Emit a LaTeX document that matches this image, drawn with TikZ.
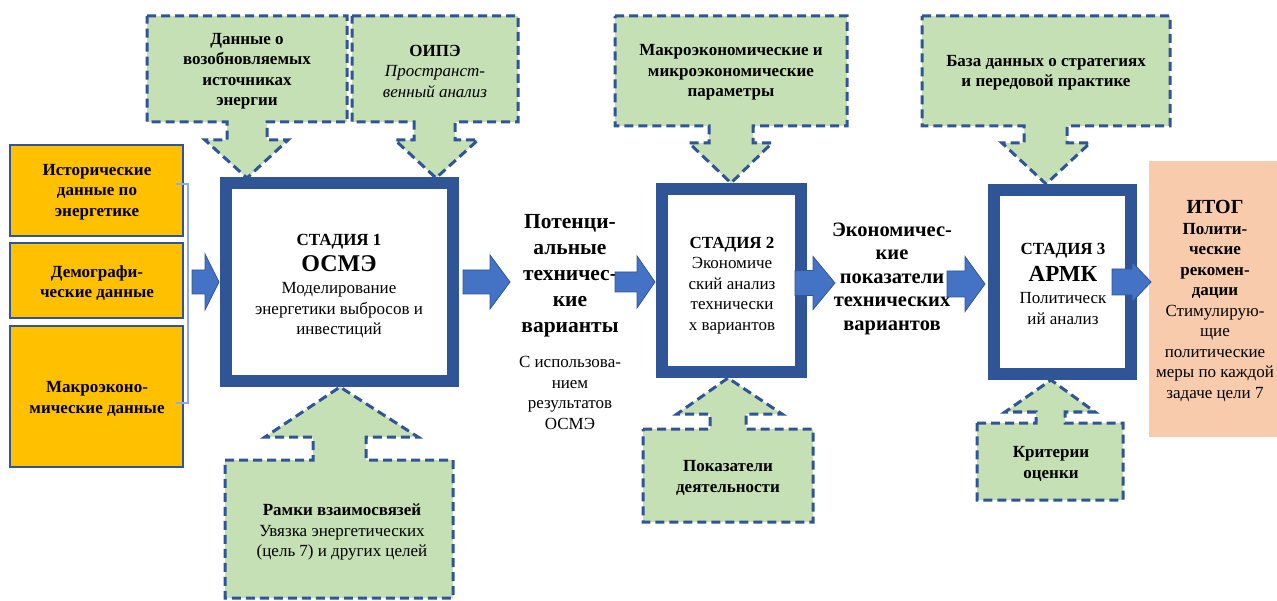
\documentclass[tikz,border=0pt]{standalone}
\usepackage{fontspec}
\setmainfont{Liberation Serif}
\definecolor{dblue}{HTML}{2F5597}
\definecolor{mblue}{HTML}{4472C4}
\definecolor{lgreen}{HTML}{C5E0B4}
\definecolor{orng}{HTML}{FFC000}
\definecolor{salmon}{HTML}{F8CBAD}
\definecolor{lblue}{HTML}{8FAADC}
\newcommand{\blockarr}[6]{\draw[barrow] (#1,#4-#5) -- (#2,#4-#5) -- (#2,#4-#6) -- (#3,#4) -- (#2,#4+#6) -- (#2,#4+#5) -- (#1,#4+#5) -- cycle;}
\begin{document}
\begin{tikzpicture}[x=1pt,y=-1pt,
 callout/.style={fill=lgreen, draw=dblue, line width=3pt, dash pattern=on 9pt off 5pt, line join=miter},
 stagebox/.style={draw=dblue, line width=12pt, fill=white},
 inbox/.style={fill=orng, draw=dblue, line width=2pt},
 barrow/.style={fill=mblue, draw=dblue, line width=0.8pt},
 txt/.style={align=center, inner sep=0pt, font=\fontsize{17}{20.5}\selectfont},
 txtb/.style={align=center, inner sep=0pt, font=\bfseries\fontsize{17}{20.5}\selectfont},
 bigtxt/.style={align=center, inner sep=0pt, font=\bfseries\fontsize{21.5}{26}\selectfont},
]
\useasboundingbox (0,0) rectangle (1277,601);

% ---- green callouts (down) ----
\draw[callout] (147,16) -- (347,16) -- (347,122) -- (267,122) -- (267,140) -- (288,140) -- (247,178) -- (205,140) -- (227,140) -- (227,122) -- (147,122) -- cycle;
\draw[callout] (352,16) -- (518,16) -- (518,122) -- (455,122) -- (455,140) -- (478,140) -- (436,178) -- (395,140) -- (414,140) -- (414,122) -- (352,122) -- cycle;
\draw[callout] (615,16) -- (847,16) -- (847,126) -- (753,126) -- (753,143) -- (772,143) -- (731,183) -- (689,143) -- (709,143) -- (709,126) -- (615,126) -- cycle;
\draw[callout] (922,16) -- (1170,16) -- (1170,126) -- (1067,126) -- (1067,143) -- (1090,143) -- (1046,184) -- (1002,143) -- (1024,143) -- (1024,126) -- (922,126) -- cycle;
% ---- green callouts (up) ----
\draw[callout] (225,460) -- (313,460) -- (313,437) -- (265,437) -- (340,387) -- (418,437) -- (366,437) -- (366,460) -- (453,460) -- (453,598) -- (225,598) -- cycle;
\draw[callout] (643,429) -- (710,429) -- (710,414) -- (677,414) -- (728,378) -- (782,414) -- (746,414) -- (746,429) -- (813,429) -- (813,522) -- (643,522) -- cycle;
\draw[callout] (977,423) -- (1036,423) -- (1036,412) -- (1005,412) -- (1051,380) -- (1095,412) -- (1065,412) -- (1065,423) -- (1123,423) -- (1123,500) -- (977,500) -- cycle;

% ---- stage boxes ----
\draw[stagebox] (226,183) rectangle (453,381);
\draw[stagebox] (662,189) rectangle (801,372);
\draw[stagebox] (994,190) rectangle (1131,374);

% ---- input boxes ----
\draw[inbox] (10,145) rectangle (183,236);
\draw[inbox] (10,243) rectangle (183,318);
\draw[inbox] (10,326) rectangle (183,467);
\draw[lblue, line width=1.2pt] (176,184) -- (188,184) -- (188,403) -- (176,403);

% ---- output box ----
\fill[salmon] (1149,161) rectangle (1277,437);

% ---- texts ----
\node[txtb] (g1) at (247,71) {Данные о\\возобновляемых\\источниках\\энергии};
\node[txt] (g2) at (435,71) {\textbf{ОИПЭ}\\\textit{Пространст-}\\\textit{венный анализ}};
\node[txtb] (g3) at (731,72.5) {Макроэкономические и\\микроэкономические\\параметры};
\node[txtb] (g4) at (1046,72.5) {База данных о стратегиях\\и передовой практике};
\node[txt] (b1) at (342,532) {\textbf{Рамки взаимосвязей}\\Увязка энергетических\\(цель 7) и других целей};
\node[txtb] (b2) at (728,478) {Показатели\\деятельности};
\node[txtb] (b3) at (1051,464) {Критерии\\оценки};

\node[txtb] (o1) at (97,192) {Исторические\\данные по\\энергетике};
\node[txtb] (o2) at (97,283) {Демографи-\\ческие данные};
\node[txtb] (o3) at (97,399) {Макроэконо-\\мические данные};

\node[txt] (s1) at (339,286) {\textbf{СТАДИЯ 1}\\[6pt]{\fontsize{24}{26}\selectfont\textbf{ОСМЭ}}\\[1.5pt]Моделирование\\энергетики выбросов и\\инвестиций};
\node[txt] (s2) at (732,285.5) {\textbf{СТАДИЯ 2}\\Экономиче\\ский анализ\\технически\\х вариантов};
\node[txt] (s3) at (1063,284) {\textbf{СТАДИЯ 3}\\[6pt]{\fontsize{23}{25}\selectfont\textbf{АРМК}}\\[2pt]Политическ\\ий анализ};

\node[bigtxt] (t1) at (570,276) {Потенци-\\альные\\техничес-\\кие\\варианты};
\node[txt] (t1b) at (570,393) {С использова-\\нием\\результатов\\ОСМЭ};
\node[bigtxt, font=\bfseries\fontsize{20.5}{23.5}\selectfont] (t2) at (892,278.5) {Экономичес-\\кие\\показатели\\технических\\вариантов};

\node[txt] (out) at (1215,301) {{\fontsize{20}{22}\selectfont\textbf{ИТОГ}}\\\textbf{Полити-}\\\textbf{ческие}\\\textbf{рекомен-}\\\textbf{дации}\\Стимулирую-\\щие\\политические\\меры по каждой\\задаче цели 7};

% ---- block arrows ----
\blockarr{192}{205}{219}{282}{12}{28}
\blockarr{463}{490}{510}{282}{12}{27}
\blockarr{615}{637}{655}{282}{10}{26}
\blockarr{795}{813}{835}{283}{12.5}{26.5}
\blockarr{947}{965}{985}{284}{13}{27.5}
\blockarr{1112}{1132}{1151}{282}{13}{20}
\end{tikzpicture}
\end{document}
